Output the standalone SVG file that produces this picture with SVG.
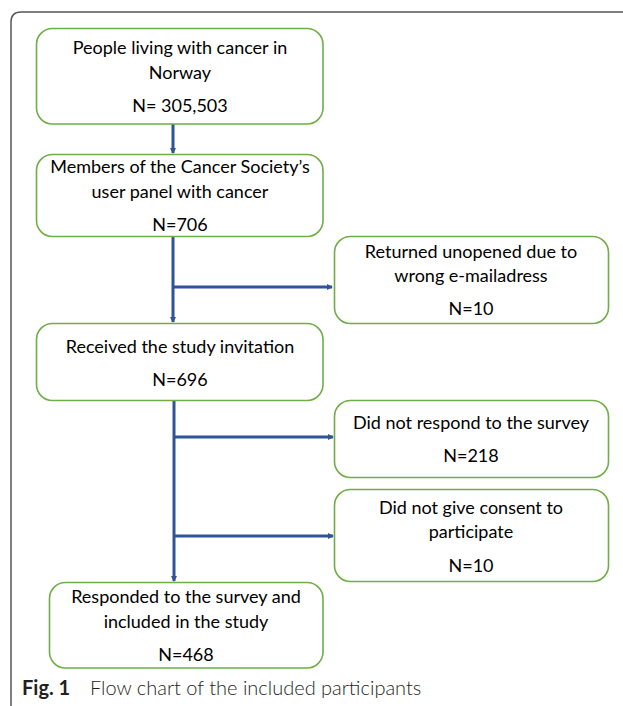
<svg xmlns="http://www.w3.org/2000/svg" width="623" height="706" viewBox="0 0 623 706">
<style>
.box{fill:#fff;stroke:#70AD47;stroke-width:1.6}
.t{font-family:Lato,"Liberation Sans",sans-serif;font-size:18px;fill:#000;text-anchor:middle}
.c{stroke:#2F5597;stroke-width:3;fill:none}
.cap{font-family:Lato,"Liberation Sans",sans-serif;font-size:20px;fill:#231f20}
</style>
<defs>
<marker id="ah" viewBox="0 0 6 6" refX="5" refY="3" markerWidth="2" markerHeight="2" orient="auto" markerUnits="strokeWidth">
<path d="M0,0 L6,3 L0,6 z" fill="#2F5597"/>
</marker>
</defs>
<rect width="623" height="706" fill="#fff"/>
<path d="M11,706 V22 Q11,12 21,12 H623" fill="none" stroke="#555" stroke-width="1.5"/>
<g id="connectors">
<line class="c" x1="173" y1="124" x2="173" y2="153" marker-end="url(#ah)"/>
<line class="c" x1="173" y1="236" x2="173" y2="322" marker-end="url(#ah)"/>
<line class="c" x1="173" y1="287" x2="332" y2="287" marker-end="url(#ah)"/>
<line class="c" x1="174" y1="400" x2="174" y2="581" marker-end="url(#ah)"/>
<line class="c" x1="174" y1="437" x2="333" y2="437" marker-end="url(#ah)"/>
<line class="c" x1="174" y1="536" x2="333" y2="536" marker-end="url(#ah)"/>
</g>
<g id="n1"><rect class="box" x="36.5" y="28.5" width="286.5" height="95.5" rx="16"/>
<text class="t" x="180" y="54">People living with cancer in</text><text class="t" x="180" y="79">Norway</text><text class="t" x="180" y="112">N= 305,503</text></g>
<g id="n2"><rect class="box" x="36.5" y="154.5" width="286.5" height="82" rx="16"/>
<text class="t" x="180" y="173">Members of the Cancer Society’s</text><text class="t" x="180" y="198">user panel with cancer</text><text class="t" x="180" y="231">N=706</text></g>
<g id="n3"><rect class="box" x="334.5" y="236.5" width="274" height="87" rx="16"/>
<text class="t" x="471" y="258">Returned unopened due to</text><text class="t" x="471" y="282">wrong e-mailadress</text><text class="t" x="471" y="315">N=10</text></g>
<g id="n4"><rect class="box" x="36.5" y="323.5" width="286.5" height="77" rx="16"/>
<text class="t" x="180" y="353">Received the study invitation</text><text class="t" x="180" y="386">N=696</text></g>
<g id="n5"><rect class="box" x="334.5" y="400.5" width="274" height="77" rx="16"/>
<text class="t" x="471" y="429">Did not respond to the survey</text><text class="t" x="471" y="462">N=218</text></g>
<g id="n6"><rect class="box" x="334.5" y="489.5" width="274" height="92" rx="16"/>
<text class="t" x="471" y="514">Did not give consent to</text><text class="t" x="471" y="538">participate</text><text class="t" x="471" y="572">N=10</text></g>
<g id="n7"><rect class="box" x="49.5" y="582.5" width="273.5" height="85.5" rx="16"/>
<text class="t" x="186" y="603">Responded to the survey and</text><text class="t" x="186" y="628">included in the study</text><text class="t" x="186" y="661">N=468</text></g>
<text class="cap" x="22" y="695"><tspan font-weight="bold">Fig. 1</tspan><tspan x="90" font-weight="300">Flow chart of the included participants</tspan></text>
</svg>
